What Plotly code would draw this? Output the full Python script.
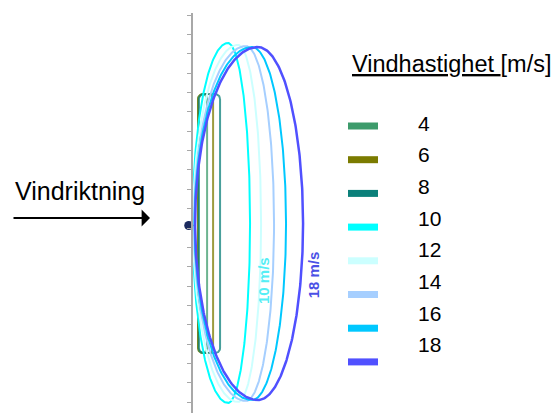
import numpy as np
import plotly.graph_objects as go

# Wind speeds [m/s] and their colours
speeds = [4, 6, 8, 10, 12, 14, 16, 18]
colors = ["#3d9b6b", "#7b7b00", "#0b807a", "#00ffff",
          "#ccffff", "#a6cfff", "#00c8ff", "#5050ff"]

# Low wind speeds: box-like contours (metres from the turbine)
small_speeds = [4, 6, 8]
small_left = [31, 31, 36]
small_right = [78, 109, 145]
small_top = [692, 692, 692]
small_bottom = [-646, -646, -646]

# Higher wind speeds: egg-shaped contours (metres from the turbine)
large_speeds = [10, 12, 14, 16, 18]
large_left = [3, 5, 10, 13, 16]
large_peak = [186, 238, 279, 310, 341]
large_right = [300, 357, 424, 486, 574]
large_top = [956, 946, 940, 935, 935]
large_bottom = [-904, -899, -894, -889, -889]

# Axis ticks every 100 m
tick_vals = list(range(-900, 1101, 100))

W, H = 556, 417
SCALE = 0.1935          # px per metre
X0_PX, Y0_PX = 192, 228  # turbine position in px


def egg(left, peak, right, top, bottom, n=400):
    t = np.linspace(0, 2 * np.pi, n)
    c, s = np.cos(t), np.sin(t)
    a = np.where(c < 0, peak - left, right - peak)
    yc = (top + bottom) / 2
    b = (top - bottom) / 2
    return peak + a * c, yc + b * s


def rounded_rect(left, right, top, bottom, r, n=20):
    xs, ys = [], []
    corners = [
        (right - r, top - r, 0, np.pi / 2),
        (left + r, top - r, np.pi / 2, np.pi),
        (left + r, bottom + r, np.pi, 1.5 * np.pi),
        (right - r, bottom + r, 1.5 * np.pi, 2 * np.pi),
    ]
    for cx, cy, a0, a1 in corners:
        t = np.linspace(a0, a1, n)
        xs.extend(cx + r * np.cos(t))
        ys.extend(cy + r * np.sin(t))
    xs.append(xs[0])
    ys.append(ys[0])
    return np.array(xs), np.array(ys)


color_of = dict(zip(speeds, colors))
fig = go.Figure()

for sp, l, r, t, b in zip(small_speeds, small_left, small_right, small_top, small_bottom):
    x, y = rounded_rect(l, r, t, b, 25)
    fig.add_trace(go.Scatter(x=x, y=y, mode="lines", opacity=0.75,
                             line=dict(color=color_of[sp], width=2),
                             hoverinfo="skip", showlegend=False))

for sp, l, p, r, t, b in zip(large_speeds, large_left, large_peak, large_right,
                              large_top, large_bottom):
    x, y = egg(l, p, r, t, b)
    fig.add_trace(go.Scatter(x=x, y=y, mode="lines",
                             line=dict(color=color_of[sp], width=2.5 if sp == 18 else 2),
                             hoverinfo="skip", showlegend=False))

# Turbine
fig.add_trace(go.Scatter(x=[-17], y=[13], mode="markers",
                         marker=dict(symbol="circle", size=9, color="#1b2a5e"),
                         hoverinfo="skip", showlegend=False))

annotations = []
# Contour labels
annotations.append(dict(x=367, y=-274, xref="x", yref="y", text="<b>10 m/s</b>",
                        textangle=-90, showarrow=False,
                        font=dict(family="Liberation Sans, Arial", size=15, color="#55eef5")))
annotations.append(dict(x=630, y=-240, xref="x", yref="y", text="<b>18 m/s</b>",
                        textangle=-90, showarrow=False,
                        font=dict(family="Liberation Sans, Arial", size=15, color="#4a50e6")))

# Wind direction
annotations.append(dict(x=13 / W, y=(H - 191) / H, xref="paper", yref="paper",
                        xanchor="left", yanchor="middle", text="Vindriktning",
                        showarrow=False,
                        font=dict(family="Liberation Sans, Arial", size=25, color="#000")))
annotations.append(dict(x=150 / W, y=(H - 218) / H, xref="paper", yref="paper",
                        ax=-138, ay=0, text="", showarrow=True,
                        arrowhead=1, arrowsize=1.4, arrowwidth=2, arrowcolor="#000"))

# Legend
annotations.append(dict(x=350 / W, y=(H - 64) / H, xref="paper", yref="paper",
                        xanchor="left", yanchor="middle",
                        text="<u>Vindhastighet\u00a0</u>[m/s]", showarrow=False,
                        font=dict(family="Liberation Sans, Arial", size=23.5, color="#000")))
shapes = []
for i, (sp, col) in enumerate(zip(speeds, colors)):
    by = 126 + 33.7 * i
    shapes.append(dict(type="rect", xref="paper", yref="paper",
                       x0=348 / W, x1=378 / W,
                       y0=(H - by - 3.5) / H, y1=(H - by + 3.5) / H,
                       line=dict(width=0), fillcolor=col))
    ty = 123 + 31.7 * i
    annotations.append(dict(x=416 / W, y=(H - ty) / H, xref="paper", yref="paper",
                            xanchor="left", yanchor="middle", text=str(sp),
                            showarrow=False,
                            font=dict(family="Liberation Sans, Arial", size=21, color="#000")))

y_bot = (Y0_PX - 413) / SCALE
y_top = (Y0_PX - 13) / SCALE
fig.update_layout(
    width=W, height=H,
    margin=dict(l=0, r=0, t=0, b=0),
    paper_bgcolor="white", plot_bgcolor="white",
    xaxis=dict(range=[-X0_PX / SCALE, (W - X0_PX) / SCALE], domain=[0, 1],
               visible=False, fixedrange=True),
    yaxis=dict(range=[y_bot, y_top], domain=[(H - 413) / H, (H - 13) / H],
               anchor="free", position=X0_PX / W,
               showline=True, linecolor="#a8a8a8", linewidth=1.5,
               ticks="outside", ticklen=4, tickcolor="#a8a8a8", tickwidth=1,
               tickvals=tick_vals, showticklabels=False,
               showgrid=False, zeroline=False, fixedrange=True),
    annotations=annotations,
    shapes=shapes,
    showlegend=False,
)

fig.write_html("out.html")
